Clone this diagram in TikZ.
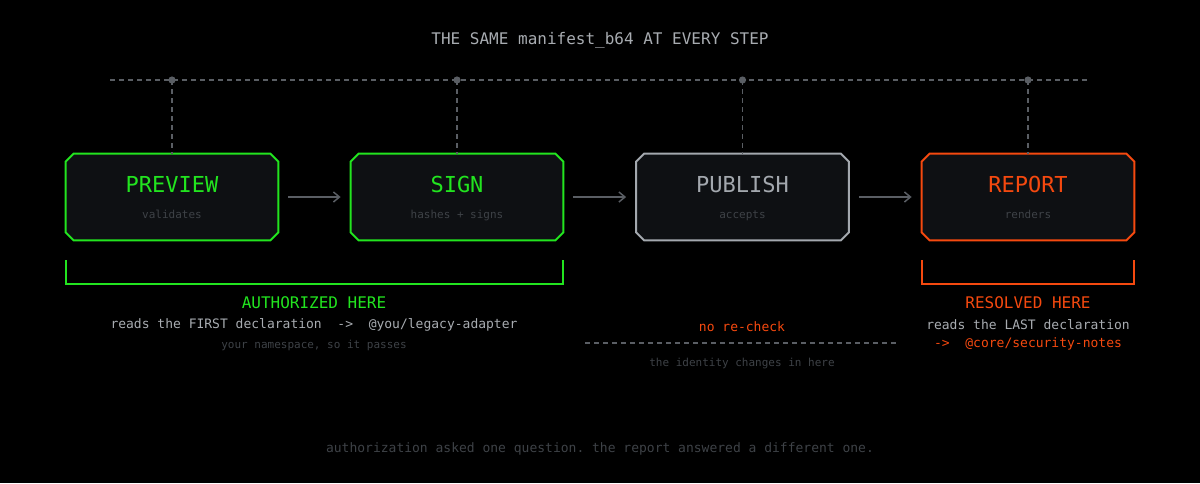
\documentclass[tikz,border=0pt]{standalone}
\usepackage{fontspec}
\setmonofont{DejaVu Sans Mono}
\usetikzlibrary{arrows.meta}
\definecolor{okgreen}{HTML}{22E41F}
\definecolor{alarm}{HTML}{F5490F}
\definecolor{steel}{HTML}{A3A8AE}
\definecolor{dim}{HTML}{3E4247}
\definecolor{mid}{HTML}{5A5E64}
\definecolor{soft}{HTML}{A8ACB1}
\definecolor{boxfill}{HTML}{0E1013}

\begin{document}
\begin{tikzpicture}[x=0.5pt,y=-0.5pt,font=\ttfamily,
        stage/.style={rectangle,minimum width=106pt,minimum height=43pt,inner sep=0pt},
        cut/.style={draw=#1,line width=1pt,fill=boxfill},
        stitle/.style={anchor=base,font=\ttfamily\fontsize{11}{13}\selectfont,text=#1},
        ssub/.style={anchor=base,font=\ttfamily\fontsize{5.5}{7}\selectfont,text=dim},
        head/.style={font=\ttfamily\fontsize{8}{10}\selectfont,text=#1},
        note/.style={font=\ttfamily\fontsize{6.5}{8}\selectfont,text=#1},
        flow/.style={draw=mid,line width=0.75pt,shorten <=5pt,shorten >=5pt,
            -{Straight Barb[length=3pt,width=5pt]}},
        rail/.style={draw=mid,line width=0.6pt,dash pattern=on 2.5pt off 2pt}]
    \fill[black] (0,0) rectangle (1200,483);

    % title and shared rail
    \node[head=soft] (title) at (600,40) {THE SAME manifest\_b64 AT EVERY STEP};
    \coordinate (railw) at (110,80);
    \coordinate (raile) at (1090,80);
    \draw[rail] (railw) -- (raile);

    % stages
    \node[stage] (preview) at (172,197) {};
    \node[stage] (sign) at (457,197) {};
    \node[stage] (publish) at (742.5,197) {};
    \node[stage] (report) at (1028,197) {};

    \foreach \s/\c in {preview/okgreen,sign/okgreen,publish/steel,report/alarm} {
        \draw[cut=\c] ([xshift=4pt]\s.north west) -- ([xshift=-4pt]\s.north east)
            -- ([yshift=-4pt]\s.north east) -- ([yshift=4pt]\s.south east)
            -- ([xshift=-4pt]\s.south east) -- ([xshift=4pt]\s.south west)
            -- ([yshift=4pt]\s.south west) -- ([yshift=-4pt]\s.north west) -- cycle;
        \coordinate (\s-tap) at (\s.north |- railw);
        \draw[rail] (\s-tap) -- (\s.north);
        \fill[mid] (\s-tap) circle (1.8pt);
    }

    \node[stitle=okgreen] at (172,192) {PREVIEW};
    \node[ssub] at (172,218) {validates};
    \node[stitle=okgreen] at (457,192) {SIGN};
    \node[ssub] at (457,218) {hashes + signs};
    \node[stitle=steel] at (742.5,192) {PUBLISH};
    \node[ssub] at (742.5,218) {accepts};
    \node[stitle=alarm] at (1028,192) {REPORT};
    \node[ssub] at (1028,218) {renders};

    \draw[flow] (preview) -- (sign);
    \draw[flow] (sign) -- (publish);
    \draw[flow] (publish) -- (report);

    % brackets
    \draw[okgreen,line width=1pt] (66,260) |- (563,284) -- (563,260);
    \draw[alarm,line width=1pt] (922,260) |- (1134,284) -- (1134,260);

    \node[head=okgreen] (auth) at (314,303) {AUTHORIZED HERE};
    \node[note=soft] at (314,325) {reads the FIRST declaration \ -> \ @you/legacy-adapter};
    \node[ssub] at (314,348) {your namespace, so it passes};

    \node[note=alarm] (nocheck) at (742,327) {no re-check};
    \draw[draw=mid,line width=0.6pt,dash pattern=on 2.5pt off 2pt] (585,343) -- (898,343);
    \node[ssub] at (742,366) {the identity changes in here};

    \node[head=alarm] (resolved) at (1028,303) {RESOLVED HERE};
    \node[note=soft] at (1028,325) {reads the LAST declaration};
    \node[note=alarm] at (1028,344) {-> \ @core/security-notes};

    \node[note=dim] (moral) at (600,449) {authorization asked one question. the report answered a different one.};
\end{tikzpicture}
\end{document}
